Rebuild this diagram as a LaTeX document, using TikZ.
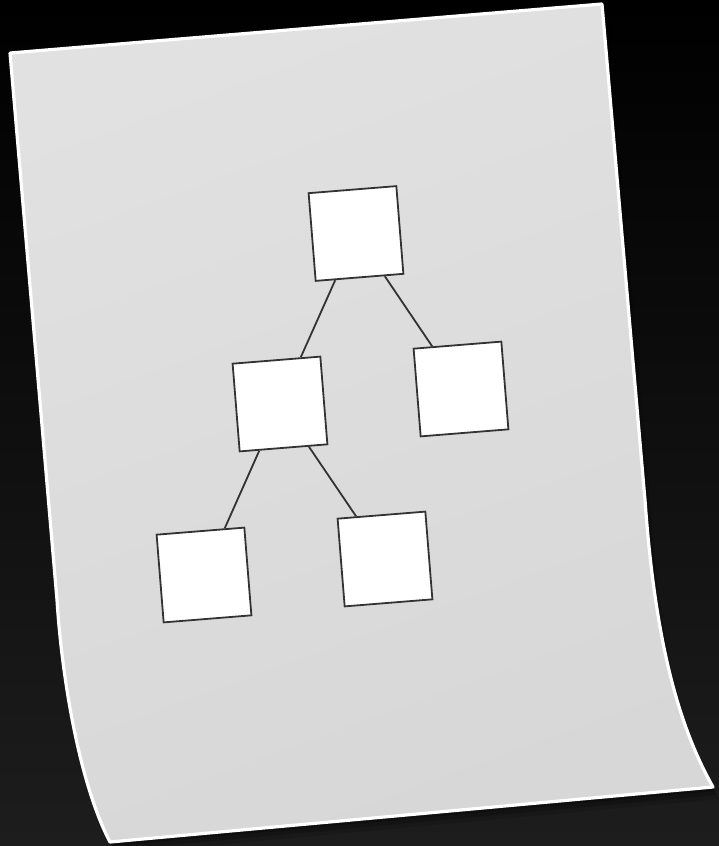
\documentclass[tikz,border=0pt]{standalone}
\definecolor{bgmid}{HTML}{121212}
\definecolor{bgbot}{HTML}{1D1D1D}
\definecolor{paperlight}{HTML}{E1E1E1}
\definecolor{paperdark}{HTML}{D7D7D7}
\definecolor{boxline}{HTML}{333333}
\begin{document}
\begin{tikzpicture}[x=1pt,y=-1pt,
  box/.style={draw=boxline, fill=white, line width=1.8pt, minimum width=88pt, minimum height=88pt, inner sep=0pt, rotate=4.6},
  link/.style={draw=boxline, line width=1.8pt}]
\useasboundingbox (0,0) rectangle (719,846);
\shade[top color=black, middle color=bgmid, bottom color=bgbot] (0,0) rectangle (719,846);
% soft shadow
\foreach \dx/\dy/\op in {6/12/0.12, 4/8/0.18, 2/4/0.25}{
  \fill[black, opacity=\op, shift={(\dx,\dy)}]
    (10,53) -- (602,4) -- (645,500) .. controls (655,640) and (678,725) .. (713,787)
    -- (110,842) .. controls (80,785) and (62,680) .. (57,600) -- cycle;
}
% paper
\shade[top color=paperlight, bottom color=paperdark, shading angle=20]
  (10,53) -- (602,4) -- (645,500) .. controls (655,640) and (678,725) .. (713,787)
  -- (110,842) .. controls (80,785) and (62,680) .. (57,600) -- cycle;
\draw[white, line width=3.2pt, line join=round]
  (10,53) -- (602,4) -- (645,500) .. controls (655,640) and (678,725) .. (713,787)
  -- (110,842) .. controls (80,785) and (62,680) .. (57,600) -- cycle;
% tree
\node[box] (root) at (356,233.5) {};
\node[box] (left) at (280,404) {};
\node[box] (right) at (461,389) {};
\node[box] (leftleft) at (204,575) {};
\node[box] (leftright) at (385,559) {};
\draw[link] (root) -- (left);
\draw[link] (root) -- (right);
\draw[link] (left) -- (leftleft);
\draw[link] (left) -- (leftright);
\end{tikzpicture}
\end{document}
